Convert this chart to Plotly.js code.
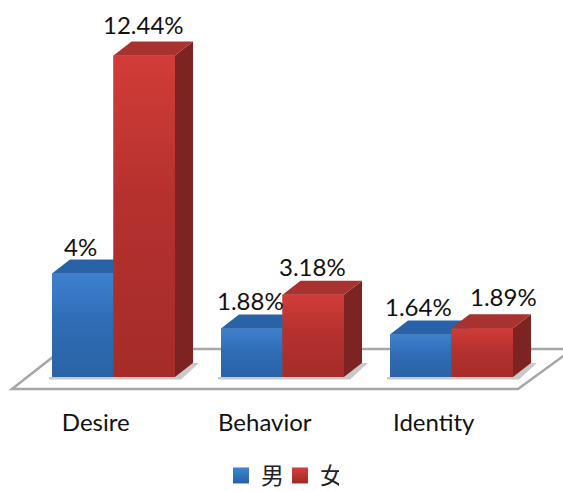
<!DOCTYPE html>
<html><head><meta charset="utf-8">
<script src="https://cdn.plot.ly/plotly-3.0.1.min.js"></script>
<style>html,body{margin:0;padding:0;background:#fff;height:491px;overflow:hidden}</style></head>
<body><div id="chart" style="width:563px;height:511px"></div>
<script>
var categories = ['Desire','Behavior','Identity'];
var seriesNames = ['男','女'];
var maleValues = [4, 1.88, 1.64];
var femaleValues = [12.44, 3.18, 1.89];
var maleLabels = ['4%','1.88%','1.64%'];
var femaleLabels = ['12.44%','3.18%','1.89%'];

var W=563,H=511,mb=105;
var pxX=169, pxY=25.85, x0px=113.5, y0px=377;
var barW=61.5/pxX, dx=18/pxX, dy=14/pxY;
var xr=[-x0px/pxX,(W-x0px)/pxX], yr=[-(H-mb-y0px)/pxY, y0px/pxY];
var FN='Lato, "Open Sans", sans-serif';
var pos=categories.map(function(c,i){return i;});

function faces(i,v,off,cols,grad){
  var l=i+off, r=l+barW, out=[];
  function poly(xs,ys,c,g){
    var t={type:'scatter',mode:'lines',x:xs,y:ys,fill:'toself',line:{width:0,color:c},fillcolor:c,hoverinfo:'skip',showlegend:false};
    if(g) t.fillgradient={type:'vertical',colorscale:g};
    out.push(t);
  }
  poly([l,r,r,l,l],[0,0,v,v,0],cols.front,grad);
  poly([r,r+dx,r+dx,r,r],[0,dy,v+dy,v,0],cols.side);
  poly([l,r,r+dx,l+dx,l],[v,v,v+dy,v+dy,v],cols.top);
  return out;
}
var blue={front:'#2f6fb8',side:'#1f4f8c',top:'#2a62a8'};
var red={front:'#b8322e',side:'#7d2321',top:'#a83230'};
var blueGrad=[[0,'#2a62a6'],[0.55,'#2f6db6'],[1,'#3f80ce']];
var redGrad=[[0,'#a52c29'],[0.55,'#b5312e'],[1,'#d23c38']];

var traces=[
 {type:'bar',x:pos,y:maleValues,width:barW,offset:-barW,marker:{color:blue.front},hoverinfo:'y',showlegend:false},
 {type:'bar',x:pos,y:femaleValues,width:barW,offset:0,marker:{color:red.front},hoverinfo:'y',showlegend:false},
 {type:'scatter',mode:'markers',name:seriesNames[0],x:[null],y:[null],marker:{symbol:'square',size:16,color:'#3f86d6',gradient:{type:'vertical',color:'#2a5f9f'}}},
 {type:'scatter',mode:'markers',name:seriesNames[1],x:[null],y:[null],marker:{symbol:'square',size:16,color:'#d8403c',gradient:{type:'vertical',color:'#9c2a27'}}}
];
function shadow(i){
  var l=i-barW-3/pxX, r=i+barW, g=6/pxX, b=2.5/pxY;
  return {type:'scatter',mode:'lines',x:[l,r,r+dx,r+dx+g,r+g,l,l],y:[0,0,dy,dy,-b,-b,0],fill:'toself',line:{width:0,color:'rgba(0,0,0,0)'},fillcolor:'rgba(120,120,120,0.4)',hoverinfo:'skip',showlegend:false};
}
pos.forEach(function(i){
  traces.push(shadow(i));
  traces=traces.concat(faces(i,maleValues[i],-barW,blue,blueGrad));
  traces=traces.concat(faces(i,femaleValues[i],0,red,redGrad));
});

var labelOffsets=[[-2,-3],[-1,-3],[-2,-2]], femaleOffsets=[[-1,0],[-1,-2],[21,1]];
var annotations=[];
pos.forEach(function(i){
  annotations.push({x:i-barW/2,y:maleValues[i]+dy,text:maleLabels[i],showarrow:false,yanchor:'bottom',xshift:labelOffsets[i][0],yshift:labelOffsets[i][1]});
  annotations.push({x:i+barW/2,y:femaleValues[i]+dy,text:femaleLabels[i],showarrow:false,yanchor:'bottom',xshift:femaleOffsets[i][0],yshift:femaleOffsets[i][1]});
});

var floorPath=function(){
  function X(p){return (p-x0px)/pxX;} function Y(p){return (y0px-p)/pxY;}
  return 'M'+X(12)+','+Y(389)+' L'+X(518)+','+Y(389)+' L'+X(573)+','+Y(349)+' L'+X(63)+','+Y(349)+' Z';
}();

var legendBottom=497, legendLeft=221;
var layout={
 width:W,height:H,margin:{l:0,r:0,t:0,b:mb},paper_bgcolor:'#fff',plot_bgcolor:'#fff',
 font:{family:FN,size:24,color:'#111'},
 barmode:'overlay',
 xaxis:{range:xr,tickmode:'array',tickvals:pos.map(function(p){return p-0.105;}),ticktext:categories,showgrid:false,zeroline:false,showline:false,ticks:'',tickfont:{family:FN,size:24,color:'#111'},fixedrange:true},
 yaxis:{range:yr,showgrid:false,zeroline:false,showline:false,showticklabels:false,ticks:'',fixedrange:true},
 shapes:[{type:'path',path:floorPath,layer:'below',line:{color:'#a6a6a6',width:2.5},fillcolor:'#fff'}],
 annotations:annotations,
 legend:{orientation:'h',x:legendLeft/W,xanchor:'left',y:-(legendBottom-(H-mb))/(H-mb),yanchor:'bottom',yref:'paper',font:{family:'"Noto Sans CJK SC",sans-serif',size:23,color:'#222'},itemwidth:30,entrywidth:14,entrywidthmode:'pixels'},
 showlegend:true
};
Plotly.newPlot('chart',traces,layout,{displayModeBar:false,staticPlot:true});
</script></body></html>
